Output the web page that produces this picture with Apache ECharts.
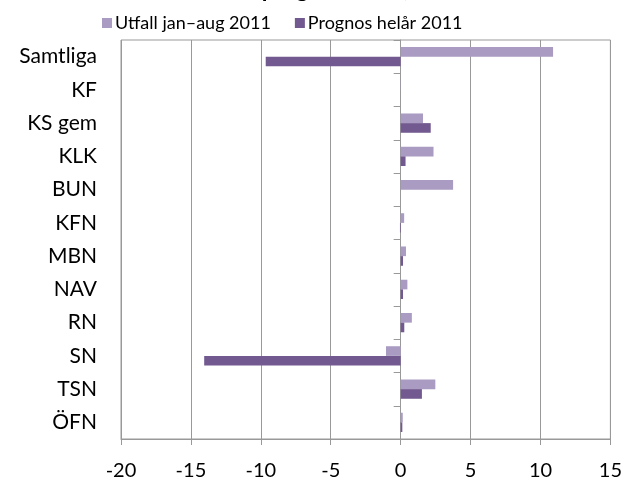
<!DOCTYPE html>
<html><head><meta charset="utf-8">
<script src="https://cdn.jsdelivr.net/npm/echarts@6/dist/echarts.min.js"></script>
<style>html,body{margin:0;padding:0;background:#fff}#c{width:625px;height:487px}</style>
</head><body><div id="c"></div>
<script>
var categories = ['Samtliga','KF','KS gem','KLK','BUN','KFN','MBN','NAV','RN','SN','TSN','ÖFN'];
var utfall = [10.9, 0.02, 1.6, 2.35, 3.75, 0.25, 0.38, 0.48, 0.8, -1.05, 2.48, 0.15];
var prognos = [-9.65, 0, 2.15, 0.35, 0, -0.05, 0.17, 0.17, 0.26, -14.05, 1.52, 0.12];
var xTicks = [-20, 15, 5];
var seriesNames = ['Utfall jan–aug 2011', 'Prognos helår 2011'];
var titleText = 'Utfall och prognos 2011, mnkr';

var FONT = 'Lato, "Open Sans", sans-serif';
var chart = echarts.init(document.getElementById('c'));
chart.setOption({
  animation: false,
  backgroundColor: '#fff',
  graphic: [{
    type: 'text', left: 'center', top: -22,
    style: { text: titleText, font: 'bold 23px ' + FONT, fill: '#000' }
  }],
  legend: {
    top: 9, left: 97, itemWidth: 10, itemHeight: 10, itemGap: 24,
    icon: 'rect',
    textStyle: { fontSize: 18, fontFamily: FONT, color: '#000', padding: [0,0,0,-2] },
    data: seriesNames
  },
  grid: { left: 121, right: 14, top: 40, bottom: 48, show: true, borderColor: '#999', borderWidth: 1 },
  xAxis: {
    type: 'value', min: xTicks[0], max: xTicks[1], interval: xTicks[2],
    axisLine: { show: true, onZero: false, lineStyle: { color: '#999', width: 1 } },
    axisTick: { show: true, length: 6, lineStyle: { color: '#999' } },
    splitLine: { show: true, lineStyle: { color: '#999', width: 1 } },
    axisLabel: { fontSize: 20, fontFamily: FONT, color: '#000', margin: 22 }
  },
  yAxis: [{
    type: 'category', data: categories, inverse: true,
    axisLine: { show: false, onZero: false }, axisTick: { show: false },
    axisLabel: { fontSize: 21, fontFamily: FONT, color: '#000', margin: 24 }
  }, {
    type: 'category', data: categories, inverse: true, position: 'left',
    axisLine: { show: true, onZero: true, lineStyle: { color: '#999', width: 1 } },
    axisTick: { show: true, length: 7, lineStyle: { color: '#999' } },
    axisLabel: { show: false }
  }],
  series: [{
    name: seriesNames[0], type: 'bar', data: utfall, yAxisIndex: 0,
    barGap: '0%', barCategoryGap: '42%',
    itemStyle: { color: '#A99BC1' }
  }, {
    name: seriesNames[1], type: 'bar', data: prognos, yAxisIndex: 0,
    barGap: '0%', barCategoryGap: '42%',
    itemStyle: { color: '#72598F' }
  }]
});
</script></body></html>
